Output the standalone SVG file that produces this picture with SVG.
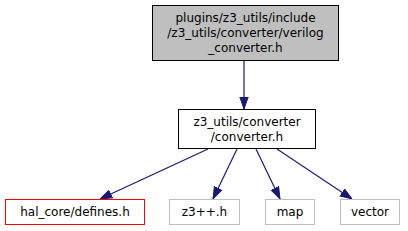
<svg xmlns="http://www.w3.org/2000/svg" width="408" height="231" viewBox="0 0 408 231">
<style>
text{font-family:"DejaVu Sans",sans-serif;font-size:12px;text-anchor:middle;fill:#000}
.e{stroke:#191970;fill:none;stroke-width:1.2}
.ah{fill:#191970;stroke:#191970}
</style>
<defs>
<marker id="a" markerWidth="12" markerHeight="10" refX="12" refY="5" orient="auto" markerUnits="userSpaceOnUse">
<path d="M0,0.8 L12,5 L0,9.2 Z" class="ah"/>
</marker>
</defs>
<rect width="408" height="231" fill="#fff"/>
<g id="connectors">
<path class="e" d="M244,61 V109" marker-end="url(#a)"/>
<path class="e" d="M208,149 L100,199" marker-end="url(#a)"/>
<path class="e" d="M237,149 L213,199" marker-end="url(#a)"/>
<path class="e" d="M256,149 L280,199" marker-end="url(#a)"/>
<path class="e" d="M277,149 L352,199" marker-end="url(#a)"/>
</g>
<g id="node1">
<rect x="152.5" y="5.5" width="186" height="55" fill="#bfbfbf" stroke="#000"/>
<text x="245.5" y="22">plugins/z3_utils/include</text>
<text x="245.5" y="37">/z3_utils/converter/verilog</text>
<text x="245.5" y="52">_converter.h</text>
</g>
<g id="node2">
<rect x="178.5" y="109.5" width="137" height="39" fill="#fff" stroke="#000"/>
<text x="247" y="126">z3_utils/converter</text>
<text x="247" y="141">/converter.h</text>
</g>
<g id="node3">
<rect x="5.5" y="199.5" width="139" height="25" fill="#fff" stroke="#ff0000"/>
<text x="75" y="216">hal_core/defines.h</text>
</g>
<g id="node4">
<rect x="169.5" y="199.5" width="70" height="25" fill="#fff" stroke="#bfbfbf"/>
<text x="204.5" y="216">z3++.h</text>
</g>
<g id="node5">
<rect x="265.5" y="199.5" width="49" height="25" fill="#fff" stroke="#bfbfbf"/>
<text x="290" y="216">map</text>
</g>
<g id="node6">
<rect x="340.5" y="199.5" width="59" height="25" fill="#fff" stroke="#bfbfbf"/>
<text x="370" y="216">vector</text>
</g>
</svg>
